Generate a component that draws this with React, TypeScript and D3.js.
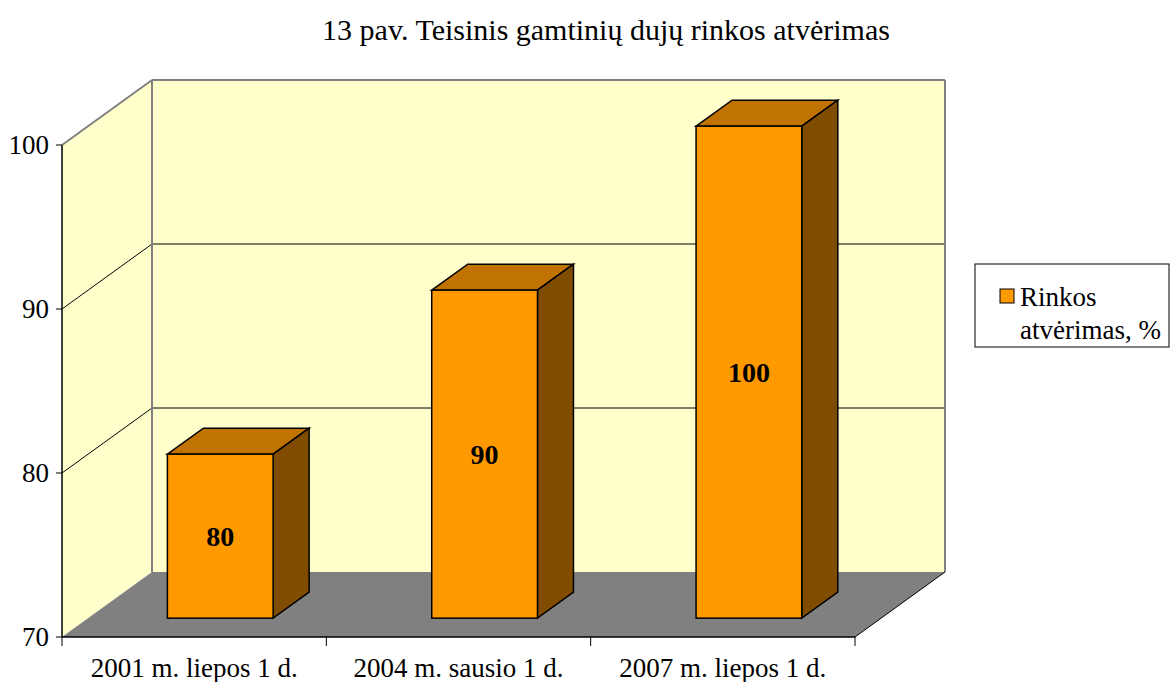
import React from "react";
import * as d3 from "d3";

const categories = ["2001 m. liepos 1 d.", "2004 m. sausio 1 d.", "2007 m. liepos 1 d."];
const values = [80, 90, 100];
const yTicks = [70, 80, 90, 100];
const seriesName = ["Rinkos", "atvėrimas, %"];
const title = "13 pav. Teisinis gamtinių dujų rinkos atvėrimas";

const W = 1176;
const H = 682;
const FONT = "'Liberation Serif', 'Times New Roman', serif";

export default function App() {
  const x0 = 62, x1 = 855;
  const DX = 90, DY = -65;
  const f0 = 0.29, f1 = 0.69;
  const y = d3.scaleLinear().domain([70, 100]).range([637, 145]);
  const x = d3.scaleBand<string>().domain(categories).range([x0, x1]).padding(0);
  const bw = x.bandwidth();
  const barW = bw * 0.4;
  const yMin = y(70), yMax = y(100);

  const pts = (arr: [number, number][]) => arr.map((p) => p.join(",")).join(" ");

  const bars = categories.map((c, i) => {
    const v = values[i];
    const L = (x(c) as number) + (bw - barW) / 2 + f0 * DX;
    const R = L + barW;
    const T = y(v) + f0 * DY;
    const B = yMin + f0 * DY;
    const ddx = (f1 - f0) * DX;
    const ddy = (f1 - f0) * DY;
    return { c, v, L, R, T, B, ddx, ddy };
  });

  return (
    <svg width={W} height={H} style={{ position: "absolute", left: 0, top: 0, background: "#fff" }}>
      <text x={606} y={40} textAnchor="middle" fontFamily={FONT} fontSize={30}>{title}</text>

      {/* left wall */}
      <polygon points={pts([[x0, yMax], [x0 + DX, yMax + DY], [x0 + DX, yMin + DY], [x0, yMin]])} fill="#FFFFCC" />
      {/* back wall */}
      <rect x={x0 + DX} y={yMax + DY} width={x1 - x0} height={yMin - yMax} fill="#FFFFCC" />
      {/* gridlines */}
      {yTicks.filter((t) => t > 70 && t < 100).map((t) => (
        <g key={t}>
          <line x1={x0} y1={y(t)} x2={x0 + DX} y2={y(t) + DY} stroke="#000" strokeWidth={1} />
          <line x1={x0 + DX} y1={y(t) + DY} x2={x1 + DX} y2={y(t) + DY} stroke="#000" strokeWidth={1} />
        </g>
      ))}
      {/* wall borders */}
      <line x1={x0} y1={yMax} x2={x0 + DX} y2={yMax + DY} stroke="#808080" strokeWidth={2} />
      <line x1={x0 + DX} y1={yMax + DY} x2={x1 + DX} y2={yMax + DY} stroke="#808080" strokeWidth={2} />
      <line x1={x0 + DX} y1={yMax + DY} x2={x0 + DX} y2={yMin + DY} stroke="#808080" strokeWidth={2} />
      <line x1={x1 + DX} y1={yMax + DY} x2={x1 + DX} y2={yMin + DY} stroke="#808080" strokeWidth={2} />

      {/* floor */}
      <polygon points={pts([[x0, yMin], [x1, yMin], [x1 + DX, yMin + DY], [x0 + DX, yMin + DY]])} fill="#808080" />
      <line x1={x1} y1={yMin} x2={x1 + DX} y2={yMin + DY} stroke="#000" strokeWidth={1} />

      {/* bars */}
      {bars.map((b) => (
        <g key={b.c} stroke="#000" strokeWidth={1.5} strokeLinejoin="miter">
          <polygon points={pts([[b.L, b.T], [b.L + b.ddx, b.T + b.ddy], [b.R + b.ddx, b.T + b.ddy], [b.R, b.T]])} fill="#C07300" />
          <polygon points={pts([[b.R, b.T], [b.R + b.ddx, b.T + b.ddy], [b.R + b.ddx, b.B + b.ddy], [b.R, b.B]])} fill="#7F4C00" />
          <rect x={b.L} y={b.T} width={b.R - b.L} height={b.B - b.T} fill="#FF9900" />
          <text x={(b.L + b.R) / 2} y={(b.T + b.B) / 2} dy="0.35em" textAnchor="middle" fontFamily={FONT} fontSize={28} fontWeight="bold" stroke="none" fill="#000">{b.v}</text>
        </g>
      ))}

      {/* axes */}
      <line x1={x0} y1={yMax} x2={x0} y2={yMin} stroke="#000" strokeWidth={1.5} />
      <line x1={x0} y1={yMin} x2={x1} y2={yMin} stroke="#000" strokeWidth={1.5} />
      {yTicks.map((t) => (
        <g key={t}>
          <line x1={x0 - 6} y1={y(t)} x2={x0} y2={y(t)} stroke="#000" strokeWidth={1} />
          <text x={x0 - 13} y={y(t)} dy="0.35em" textAnchor="end" fontFamily={FONT} fontSize={27}>{t}</text>
        </g>
      ))}
      {[...categories.map((c) => x(c) as number), x1].map((px, i) => (
        <line key={i} x1={px} y1={yMin} x2={px} y2={yMin + 9} stroke="#000" strokeWidth={1} />
      ))}
      {categories.map((c) => (
        <text key={c} x={(x(c) as number) + bw / 2} y={677} textAnchor="middle" fontFamily={FONT} fontSize={27}>{c}</text>
      ))}

      {/* legend */}
      <rect x={975} y={264} width={194} height={83} fill="#fff" stroke="#000" strokeWidth={1} />
      <rect x={1000} y={289} width={14} height={14} fill="#FF9900" stroke="#000" strokeWidth={1} />
      <text x={1020} y={306} fontFamily={FONT} fontSize={27}>{seriesName[0]}</text>
      <text x={1020} y={339} fontFamily={FONT} fontSize={27}>{seriesName[1]}</text>
    </svg>
  );
}
